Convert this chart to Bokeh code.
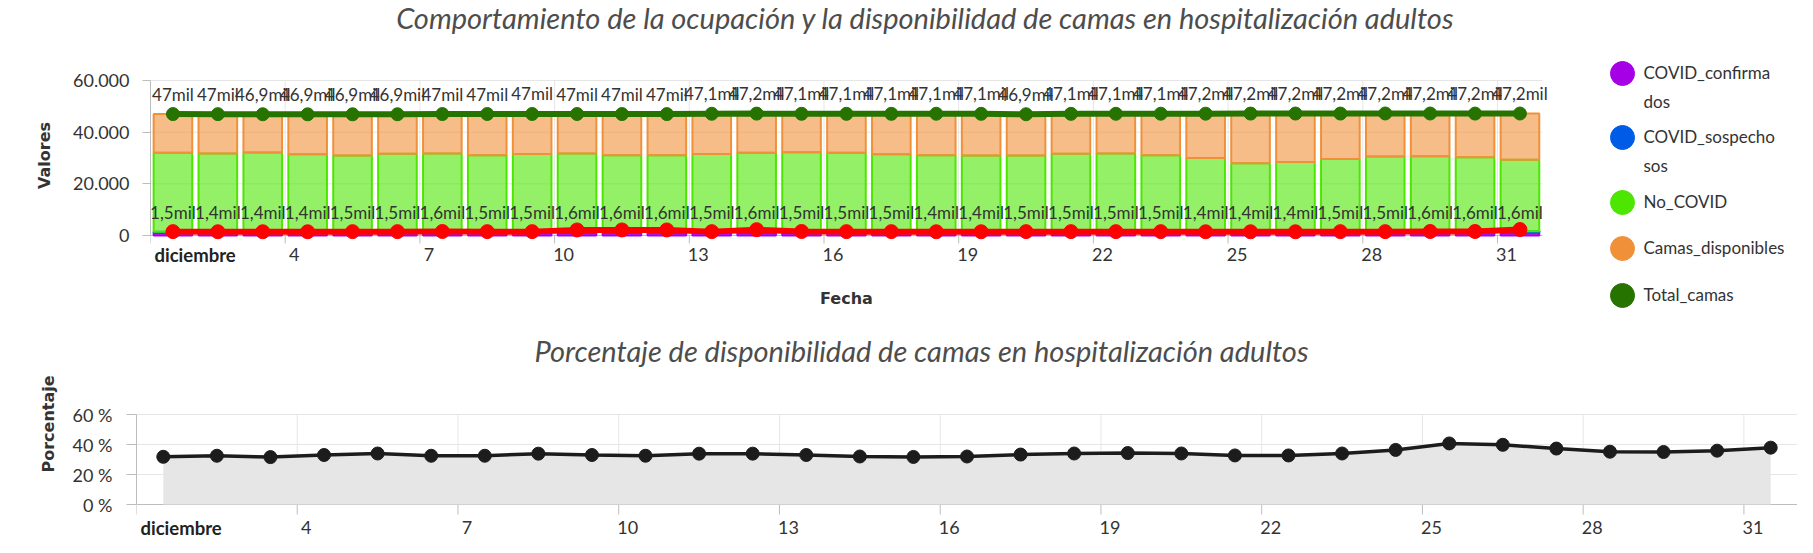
from bokeh.plotting import figure
from bokeh.models import ColumnDataSource, Range1d, FixedTicker
from bokeh.layouts import column, row
from bokeh.core.properties import value
from bokeh.embed import file_html
from bokeh.resources import INLINE

# datos (diciembre, un valor por dia)
dias = list(range(1, 32))
total_camas = [47010, 46980, 46930, 46910, 46920, 46930, 47020, 47030, 47040, 47030,
               47020, 46990, 47120, 47180, 47110, 47090, 47100, 47130, 47110, 46940,
               47090, 47120, 47140, 47160, 47190, 47210, 47200, 47230, 47220, 47190, 47220]
camas_disponibles = [14950, 15270, 14830, 15480, 15950, 15250, 15280, 15940, 15520, 15290,
                     15940, 15930, 15550, 15100, 14930, 15070, 15680, 16020, 16160, 15960,
                     15400, 15410, 16030, 17170, 19210, 18790, 17610, 16630, 16530, 16940, 17900]
no_covid = [30560, 30310, 30700, 30030, 29470, 30180, 30140, 29590, 30020, 30140,
            29480, 29460, 30070, 30480, 30680, 30520, 29920, 29710, 29550, 29480,
            30190, 30210, 29610, 28590, 26580, 27020, 28090, 29100, 29090, 28650, 27720]
covid_confirmados = [1020, 980, 960, 970, 1010, 1030, 1080, 1040, 1020, 1090,
                     1100, 1080, 1030, 1070, 1020, 1000, 990, 960, 950, 990,
                     1000, 990, 980, 950, 930, 920, 980, 990, 1050, 1060, 1070]
covid_sospechosos = [480, 420, 440, 430, 490, 470, 520, 460, 480, 510,
                     500, 520, 470, 530, 480, 500, 510, 440, 450, 510,
                     500, 510, 520, 450, 470, 480, 520, 510, 550, 540, 530]
covid_linea = [1500, 1450, 1450, 1450, 1500, 1500, 1550, 1500, 1500, 2150,
               2150, 2150, 1500, 2250, 1550, 1500, 1500, 1450, 1450, 1500,
               1500, 1500, 1500, 1450, 1450, 1450, 1500, 1500, 1550, 1550, 2300]
porcentaje = [31.8, 32.5, 31.6, 33.0, 34.0, 32.5, 32.5, 33.9, 33.0, 32.5,
              33.9, 33.9, 33.0, 32.0, 31.7, 32.0, 33.3, 34.0, 34.3, 34.0,
              32.7, 32.7, 34.0, 36.4, 40.7, 39.8, 37.3, 35.2, 35.0, 35.9, 37.9]

ticks_dias = [1, 4, 7, 10, 13, 16, 19, 22, 25, 28, 31]
ticks_texto = ["diciembre", "4", "7", "10", "13", "16", "19", "22", "25", "28", "31"]
ticks_valores = [0, 20000, 40000, 60000]
ticks_valores_texto = ["0", "20.000", "40.000", "60.000"]
ticks_pct = [0, 20, 40, 60]
ticks_pct_texto = ["0 %", "20 %", "40 %", "60 %"]

series = ["COVID_confirmados", "COVID_sospechosos", "No_COVID", "Camas_disponibles"]
colores = ["#a600e6", "#005ce6", "#4ce600", "#f0913a"]
color_total = "#267300"
leyenda = ["COVID_confirma\ndos", "COVID_sospecho\nsos", "No_COVID", "Camas_disponibles", "Total_camas"]
leyenda_y = [73, 137, 202, 248, 295]

titulo1 = "Comportamiento de la ocupación y la disponibilidad de camas en hospitalización adultos"
titulo2 = "Porcentaje de disponibilidad de camas en hospitalización adultos"

FUENTE = "Lato"
GRIS = "#333333"
GRID = "#e6e6e6"
EJE = "#bdbdbd"


def mil(v):
    s = f"{v / 1000:.1f}".replace(".", ",")
    if s.endswith(",0"):
        s = s[:-2]
    return s + "mil"


covid_suma = [a + b for a, b in zip(covid_confirmados, covid_sospechosos)]
src = ColumnDataSource(dict(
    x=[d + 0.5 for d in dias],
    COVID_confirmados=covid_confirmados,
    COVID_sospechosos=covid_sospechosos,
    No_COVID=no_covid,
    Camas_disponibles=camas_disponibles,
    total=total_camas,
    total_lbl=[mil(v) for v in total_camas],
    covid=covid_suma,
    covid_lbl=[mil(v) for v in covid_suma],
    linea=covid_linea,
    pct=porcentaje,
))


def armar(fig, y_ticks, y_texto, y_label, tick_len, lbl_off, titulo, titulo_x, titulo_off, px_x, px_y):
    """ejes, rejilla, etiquetas y titulo dibujados dentro del marco"""
    fig.outline_line_color = None
    fig.grid.visible = False
    ymax = y_ticks[-1]
    ax = fig.yaxis[0]
    ax.bounds = (0, ymax)
    ax.ticker = FixedTicker(ticks=y_ticks)
    ax.major_label_overrides = dict(zip(y_ticks, y_texto))
    ax.axis_label = y_label
    ax.major_tick_in = 0
    ax.major_tick_out = tick_len
    ax.minor_tick_line_color = None
    ax.axis_line_color = EJE
    ax.major_tick_line_color = EJE
    ax.major_label_text_font = FUENTE
    ax.major_label_text_font_size = "18px"
    ax.major_label_text_color = GRIS
    ax.axis_label_text_font = "DejaVu Sans"
    ax.axis_label_text_font_size = "16px"
    ax.axis_label_text_font_style = "bold"
    ax.axis_label_text_color = GRIS
    # rejilla
    fig.segment(x0=ticks_dias[1:], y0=0, x1=ticks_dias[1:], y1=ymax, line_color=GRID, line_width=1)
    fig.segment(x0=1, y0=y_ticks[1:], x1=32, y1=y_ticks[1:], line_color=GRID, line_width=1)
    # eje x
    fig.segment(x0=1, y0=0, x1=32, y1=0, line_color=EJE, line_width=1)
    fig.segment(x0=ticks_dias, y0=0, x1=ticks_dias, y1=-tick_len * px_y, line_color=EJE, line_width=1)
    fig.text(x=ticks_dias[1:], y=0, text=ticks_texto[1:], x_offset=9, y_offset=lbl_off,
             text_align="center", text_baseline="middle", text_font=value(FUENTE),
             text_font_size="18px", text_color=GRIS)
    fig.text(x=ticks_dias[:1], y=0, text=ticks_texto[:1], x_offset=4, y_offset=lbl_off,
             text_align="left", text_baseline="middle", text_font=value(FUENTE),
             text_font_size="18.5px", text_font_style="bold", text_color="#222222")
    fig.text(x=[1 + titulo_x / px_x], y=ymax, text=[titulo], y_offset=titulo_off,
             text_align="center", text_baseline="middle", text_font=value(FUENTE),
             text_font_size="29px", text_font_style="italic", text_color="#4d4d4d")


# ---------- grafico superior ----------
H1, IZQ1, DIA1 = 310, 150, 44.9
u1 = 60000 / 155
p = figure(width=1565, height=H1, x_range=Range1d(1, 1 + (1565 - IZQ1) / DIA1),
           y_range=Range1d(-(H1 - 235) * u1, 60000 + 80 * u1),
           output_backend="svg", toolbar_location=None, x_axis_location=None,
           min_border_left=IZQ1, min_border_right=0, min_border_top=0, min_border_bottom=0)
armar(p, ticks_valores, ticks_valores_texto, "Valores", 8, 19, titulo1, 925 - IZQ1, -63, DIA1, u1)
p.yaxis.major_label_standoff = 13
p.yaxis.axis_label_standoff = 16

p.vbar_stack(series, x="x", width=0.86, source=src, fill_color=colores, line_color=colores,
             fill_alpha=[0.85, 0.85, 0.6, 0.6], line_width=2)
p.line("x", "total", source=src, color=color_total, line_width=6)
p.scatter("x", "total", source=src, size=13, color=color_total)
p.line("x", "linea", source=src, color="#ff0000", line_width=6)
p.scatter("x", "linea", source=src, size=14, color="#ff0000")
p.text("x", "total", text="total_lbl", source=src, y_offset=-20, text_align="center",
       text_baseline="middle", text_font=value(FUENTE), text_font_size="17px", text_color=GRIS)
p.text("x", "covid", text="covid_lbl", source=src, y_offset=-19, text_align="center",
       text_baseline="middle", text_font=value(FUENTE), text_font_size="17px", text_color=GRIS)
p.text(x=[16.5], y=0, text=["Fecha"], y_offset=63, text_align="center", text_baseline="middle",
       text_font=value("DejaVu Sans"), text_font_size="16px", text_font_style="bold", text_color=GRIS)

# ---------- leyenda ----------
W_LEY = 1797 - 1565
lg = figure(width=W_LEY, height=H1, x_range=Range1d(1565, 1797), y_range=Range1d(H1, 0),
            output_backend="svg", toolbar_location=None, min_border=0,
            x_axis_location=None, y_axis_location=None)
lg.outline_line_color = None
lg.grid.visible = False
lsrc = ColumnDataSource(dict(nombre=leyenda, color=colores + [color_total], y=leyenda_y))
lg.scatter(1622, "y", source=lsrc, size=24, color="color")
lg.text(1643, "y", text="nombre", source=lsrc, y_offset=-12, text_baseline="top",
        text_font=value(FUENTE), text_font_size="17px", text_color=GRIS, text_line_height=1.4)

# ---------- grafico inferior ----------
H2, IZQ2 = 227, 136
DIA2 = (1797 - IZQ2) / 31
u2 = 60 / 90
p2 = figure(width=1797, height=H2, x_range=Range1d(1, 32),
            y_range=Range1d(-(H2 - 194) * u2, 60 + 104 * u2),
            output_backend="svg", toolbar_location=None, x_axis_location=None,
            min_border_left=IZQ2, min_border_right=0, min_border_top=0, min_border_bottom=0)
armar(p2, ticks_pct, ticks_pct_texto, "Porcentaje", 10, 23, titulo2, 921 - IZQ2, -64, DIA2, u2)
p2.yaxis.major_label_standoff = 14
p2.yaxis.axis_label_standoff = 12

p2.varea(x="x", y1=0, y2="pct", source=src, fill_color="#e6e6e6")
p2.line("x", "pct", source=src, color="#1c1c1c", line_width=3.5)
p2.scatter("x", "pct", source=src, size=13, color="#1c1c1c")

layout = column(row(p, lg), p2)
open("out.html", "w").write(file_html(layout, INLINE))
